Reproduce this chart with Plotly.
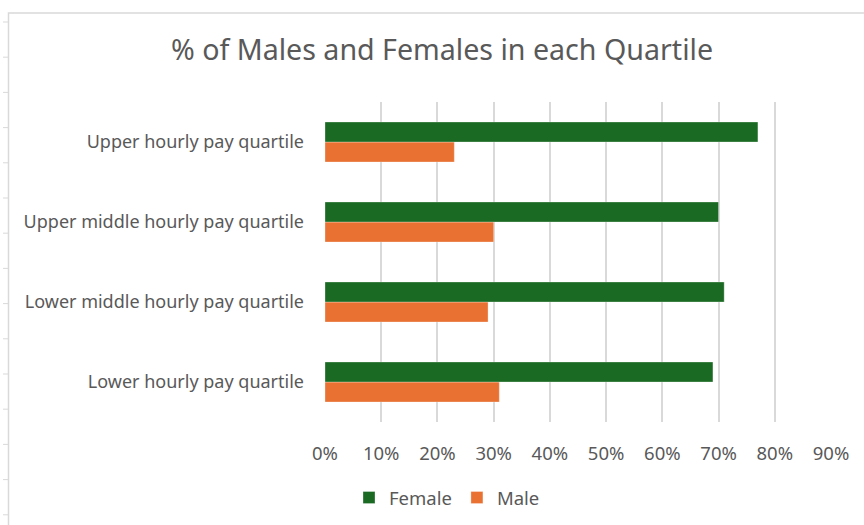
import plotly.graph_objects as go

categories = ["Lower hourly pay quartile", "Lower middle hourly pay quartile",
              "Upper middle hourly pay quartile", "Upper hourly pay quartile"]
female = [0.69, 0.71, 0.70, 0.77]
male = [0.31, 0.29, 0.30, 0.23]
tick_vals = [0, 0.1, 0.2, 0.3, 0.4, 0.5, 0.6, 0.7, 0.8, 0.9]
tick_text = ["0%", "10%", "20%", "30%", "40%", "50%", "60%", "70%", "80%", "90%"]

FONT = "Noto Sans"
GREY = "#595959"

fig = go.Figure()
fig.add_trace(go.Bar(y=categories, x=male, name="Male", orientation="h",
                     marker=dict(color="#E97132", line=dict(color="rgba(255,255,255,0.6)", width=0.5)),
                     legendrank=2))
fig.add_trace(go.Bar(y=categories, x=female, name="Female", orientation="h",
                     marker=dict(color="#1B6A24", line=dict(color="rgba(255,255,255,0.6)", width=0.5)),
                     legendrank=1))

L, R, T, B = 325, 33, 102, 103
W, H = 864, 525
pw, ph = W - L - R, H - T - B

def px2u(px):
    return (px - L) / pw

def py2v(py):
    return 1 - (py - T) / ph

shapes = [dict(type="rect", xref="paper", yref="paper",
               x0=px2u(8.5), x1=px2u(880), y0=py2v(540), y1=py2v(13),
               line=dict(color="#D9D9D9", width=1.5), fillcolor="rgba(0,0,0,0)", layer="below")]
for i in range(15):
    yy = 22 + i * 35.2
    if yy > 525:
        break
    shapes.append(dict(type="line", xref="paper", yref="paper",
                       x0=px2u(3), x1=px2u(8), y0=py2v(yy), y1=py2v(yy),
                       line=dict(color="#D9D9D9", width=1)))

fig.update_layout(
    width=W, height=H,
    margin=dict(l=L, r=R, t=T, b=B, autoexpand=False),
    paper_bgcolor="white", plot_bgcolor="white",
    barmode="group", bargap=0.5, bargroupgap=0,
    font=dict(family=FONT, color=GREY),
    title=dict(text="% of Males and Females in each Quartile",
               x=442 / W, xanchor="center", xref="container",
               y=1 - 50 / H, yanchor="middle",
               font=dict(size=28.6, color=GREY, family=FONT)),
    xaxis=dict(range=[0, 0.9], tickvals=tick_vals, ticktext=tick_text,
               showgrid=True, gridcolor="#D9D9D9", gridwidth=1.5,
               zeroline=False, showline=False,
               tickfont=dict(size=18.5, color=GREY), ticklabelstandoff=18,
               fixedrange=True),
    yaxis=dict(showgrid=False, zeroline=False, showline=False,
               tickfont=dict(size=18, color=GREY), ticklabelstandoff=20,
               fixedrange=True),
    legend=dict(orientation="h", x=px2u(447), xanchor="center",
                y=py2v(498), yanchor="middle",
                font=dict(size=18.5, color=GREY), itemwidth=30),
    shapes=shapes,
)

fig.write_html("out.html", config={"displayModeBar": False},
               post_script="document.body.style.margin='0';document.body.style.overflow='hidden';")
